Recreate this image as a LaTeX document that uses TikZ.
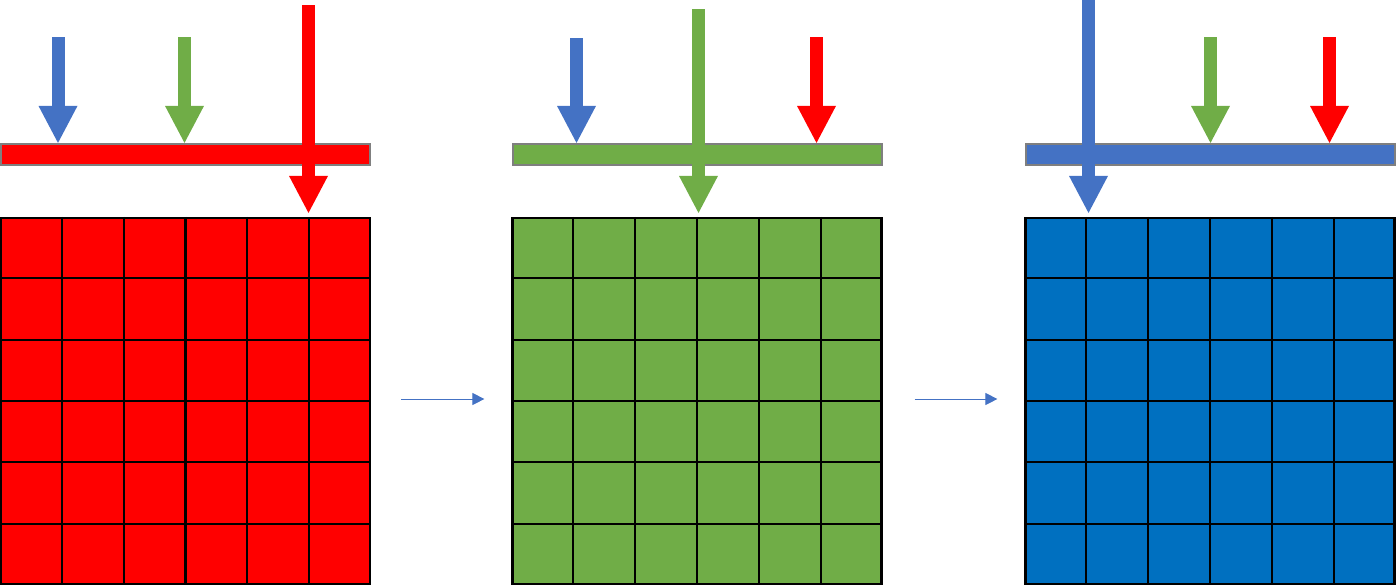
\documentclass[tikz,border=0pt]{standalone}
\usepackage{xcolor}
\usepackage{tikz}
\usetikzlibrary{arrows.meta, positioning, calc}

\definecolor{redfill}{HTML}{FF0000}
\definecolor{greenfill}{HTML}{70AD47}
\definecolor{bluefill}{HTML}{4472C4}
\definecolor{bluecell}{HTML}{0070C0}
\definecolor{bargray}{HTML}{7F7F7F}

\begin{document}
\begin{tikzpicture}[
  x=1pt, y=-1pt,
  cellgrid/.style={draw=black, line width=2.2pt, minimum width=369pt, minimum height=366pt, inner sep=0pt},
  cellline/.style={black, line width=2.2pt},
  filterbar/.style={draw=bargray, line width=2pt, minimum width=369pt, minimum height=21pt, inner sep=0pt},
  bigarr/.style={line width=13pt, -{Triangle[width=39pt, length=37pt, line width=0pt]}},
  steparr/.style={bluefill, line width=0.9pt, -{Triangle[width=12pt, length=12pt]}},
]
\useasboundingbox (0,0) rectangle (1397,587);

% pixel grids
\node[cellgrid, fill=redfill] (gridA) at (185.5,401) {};
\node[cellgrid, fill=greenfill] (gridB) at (697,401) {};
\node[cellgrid, fill=bluecell] (gridC) at (1210,401) {};
\foreach \g in {gridA, gridB, gridC} {
  \foreach \i in {1,...,5} {
    \draw[cellline] ($(\g.north west)!\i/6!(\g.north east)$) -- ($(\g.south west)!\i/6!(\g.south east)$);
    \draw[cellline] ($(\g.north west)!\i/6!(\g.south west)$) -- ($(\g.north east)!\i/6!(\g.south east)$);
  }
}

% filter bars
\node[filterbar, fill=redfill, above=51pt of gridA] (barA) {};
\node[filterbar, fill=greenfill, above=51pt of gridB] (barB) {};
\node[filterbar, fill=bluefill, above=51pt of gridC] (barC) {};

% incoming light, first panel
\draw[bigarr, bluefill] (58,37) -- (58,37 |- barA.north);
\draw[bigarr, greenfill] (184.5,37) -- (184.5,37 |- barA.north);
\draw[bigarr, redfill, shorten >=4pt] (308.5,5) -- (308.5,5 |- gridA.north);

% second panel
\draw[bigarr, bluefill] (576.5,38) -- (576.5,38 |- barB.north);
\draw[bigarr, greenfill, shorten >=4pt] (698.5,9) -- (698.5,9 |- gridB.north);
\draw[bigarr, redfill] (816.5,37) -- (816.5,37 |- barB.north);

% third panel
\draw[bigarr, bluefill, shorten >=4pt] (1088.5,0) -- (1088.5,0 |- gridC.north);
\draw[bigarr, greenfill] (1210.5,37) -- (1210.5,37 |- barC.north);
\draw[bigarr, redfill] (1329.5,37) -- (1329.5,37 |- barC.north);

% steps
\draw[steparr, shorten <=30pt, shorten >=27pt] ([yshift=2pt]gridA.east) -- ([yshift=2pt]gridB.west);
\draw[steparr, shorten <=32pt, shorten >=27pt] ([yshift=2pt]gridB.east) -- ([yshift=2pt]gridC.west);

\end{tikzpicture}
\end{document}
